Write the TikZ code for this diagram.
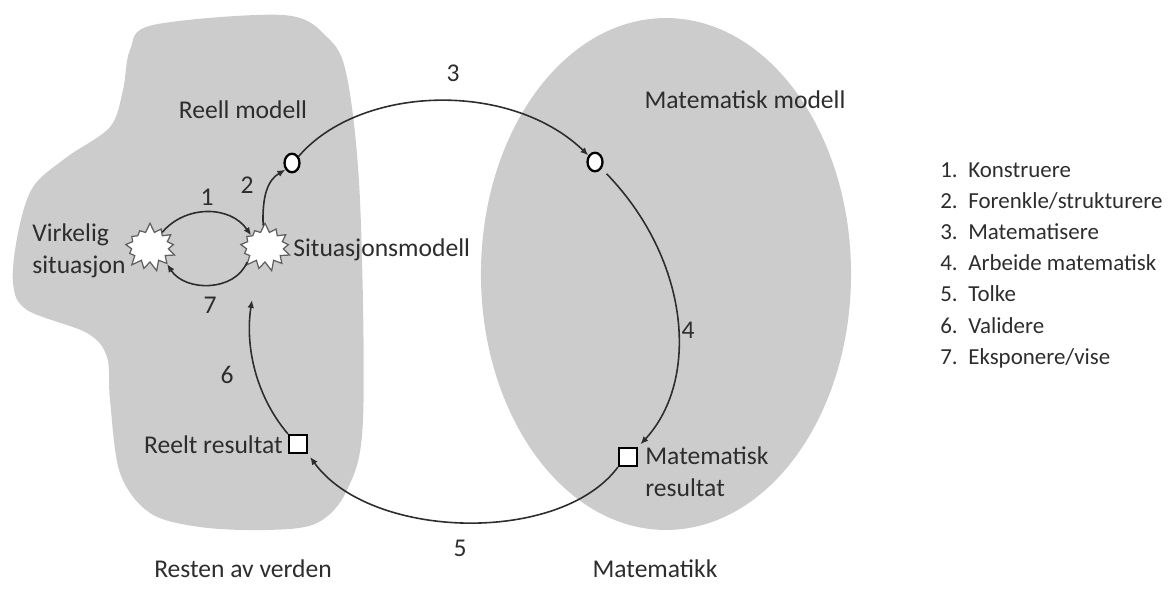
\documentclass[tikz,border=0pt]{standalone}
\usepackage{fontspec}
\setmainfont{Carlito}
\usepackage{xcolor}
\usepackage{tikz}
\usetikzlibrary{arrows.meta, shapes.geometric, shapes.symbols}
\definecolor{blob}{RGB}{204,204,204}
\definecolor{ink}{RGB}{45,45,45}
\definecolor{burstline}{RGB}{95,95,95}

\begin{document}
\begin{tikzpicture}[x=0.5669pt, y=-0.5669pt,
  txt/.style={inner sep=0pt, text=ink, font=\fontsize{14.5}{18}\selectfont},
  nr/.style={txt},
  leg/.style={inner sep=0pt, text=ink, font=\fontsize{13}{16}\selectfont, anchor=base west},
  burst/.style={starburst, starburst points=13, starburst point height=5.5pt, random starburst=7,
    draw=burstline, fill=white, line width=0.7pt, minimum width=32pt, minimum height=28pt, inner sep=0pt},
  dot/.style={ellipse, draw=black, fill=white, line width=1.3pt, minimum width=8.5pt, minimum height=10.5pt, inner sep=0pt},
  sq/.style={rectangle, draw=black, fill=white, line width=1.2pt, minimum size=10.2pt, inner sep=0pt},
  con/.style={draw=ink, line width=0.9pt, -{Latex[length=4.5pt,width=3.8pt]}},
  >={Latex}]
\useasboundingbox (0,0) rectangle (1172,590);
% the two worlds
\fill[blob] plot[smooth cycle, tension=0.55] coordinates {
  (153,25) (283,15) (327,37) (347,77) (360,200) (363,420) (347,490) (317,523)
  (267,530) (200,527) (150,513) (120,473) (110,400) (107,357) (87,333) (27,310)
  (13,283) (18,233) (33,187) (67,157) (110,127) (123,90) (130,50)};
\fill[blob] (666,274) ellipse [x radius=104.9pt, y radius=145.1pt];
% situations, models, results
\node[burst] (vs) at (150,247) {};
\node[burst] (sm) at (265,247) {};
\node[dot] (c1) at (292,163) {};
\node[dot] (c2) at (595,162) {};
\node[sq] (r1) at (298,444) {};
\node[sq] (r2) at (628,457) {};
\coordinate (a6) at (252,300);
% texts
\node[txt] (reell) at (243,110) {Reell modell};
\node[txt] (matmod) at (745,100) {Matematisk modell};
\node[txt, align=left, anchor=west] (virk) at (32,251) {Virkelig\\situasjon};
\node[txt, anchor=west] (sit) at (293,250) {Situasjonsmodell};
\node[txt, anchor=east] (reelt) at (283,445) {Reelt resultat};
\node[txt, align=left, anchor=west] (matres) at (645,472) {Matematisk\\resultat};
\node[txt] (rest) at (243,569) {Resten av verden};
\node[txt] (matte) at (655,569) {Matematikk};
% the cycle
\draw[con] (vs.50) .. controls (185,205) and (230,205) .. (sm.140);
\draw[con] (sm.-140) .. controls (235,292) and (185,292) .. (vs.-45);
\draw[con] (sm.95) .. controls (262,195) and (268,180) .. (c1.-135);
\draw[con] (c1.45) .. controls (360,85) and (510,80) .. (c2.135);
\draw[con, shorten <=4pt, shorten >=2pt] (c2.-45) .. controls (690,260) and (700,380) .. (r2.north east);
\draw[con, shorten >=2pt] (r2.south west) .. controls (560,545) and (370,540) .. (r1.south east);
\draw[con] (r1.north west) .. controls (255,395) and (245,345) .. (a6);
\node[nr] (n1) at (207,197) {1};
\node[nr] (n2) at (247,185) {2};
\node[nr] (n3) at (453,73) {3};
\node[nr] (n4) at (688,330) {4};
\node[nr] (n5) at (460,548) {5};
\node[nr] (n6) at (227,375) {6};
\node[nr] (n7) at (210,305) {7};
% legend
\foreach \i/\t in {1/Konstruere, 2/Forenkle\slash strukturere, 3/Matematisere,
    4/Arbeide matematisk, 5/Tolke, 6/Validere, 7/Eksponere\slash vise} {
  \node[leg] (k\i) at (940,{177+31.2*(\i-1)}) {\i.};
  \node[leg] (t\i) at (968,{177+31.2*(\i-1)}) {\t};
}
\end{tikzpicture}
\end{document}
